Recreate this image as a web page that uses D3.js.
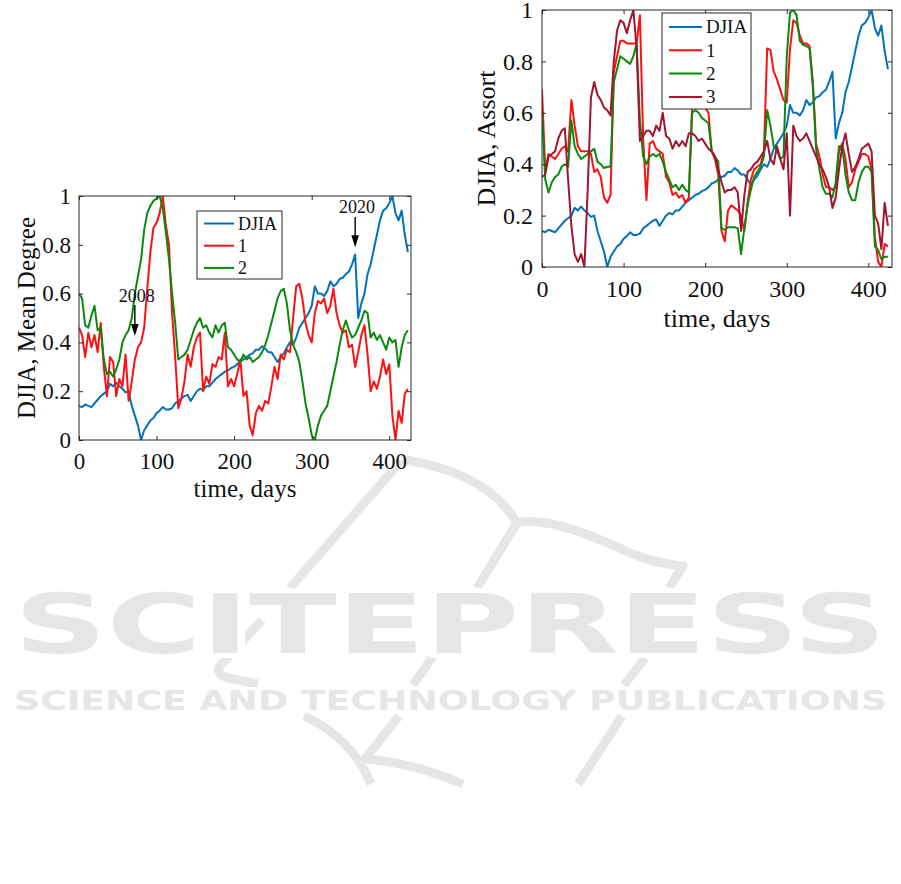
<!DOCTYPE html>
<html><head><meta charset="utf-8">
<script src="https://cdn.jsdelivr.net/npm/d3@7"></script>
<style>html,body{margin:0;padding:0;background:#fff}svg{display:block}</style>
</head><body>
<svg id="c" width="901" height="884"></svg>
<script>
// ---------------- DATA ----------------
const days = d3.range(0, 425, 4); // sampling days 0..424

const djia = [
0.14,0.135,0.145,0.14,0.135,0.15,0.165,0.18,0.19,0.2,
0.23,0.22,0.235,0.22,0.21,0.195,0.2,0.14,0.1,0.06,
0.0,0.04,0.06,0.08,0.09,0.11,0.12,0.135,0.125,0.125,
0.13,0.15,0.16,0.17,0.18,0.185,0.16,0.18,0.2,0.21,
0.205,0.22,0.22,0.235,0.25,0.26,0.27,0.28,0.285,0.295,
0.3,0.31,0.325,0.33,0.34,0.35,0.355,0.37,0.37,0.385,
0.375,0.36,0.36,0.34,0.32,0.34,0.355,0.38,0.4,0.39,
0.42,0.46,0.48,0.5,0.52,0.55,0.63,0.6,0.6,0.59,
0.61,0.65,0.63,0.64,0.66,0.665,0.68,0.69,0.72,0.76,
0.5,0.56,0.6,0.68,0.72,0.78,0.84,0.9,0.94,0.95,
0.97,1.0,0.93,0.9,0.94,0.84,0.77];

// Mean degree, series 1 and 2
const meanDeg1 = [
0.46,0.43,0.34,0.44,0.38,0.43,0.36,0.48,0.3,0.18,
0.34,0.32,0.18,0.25,0.22,0.35,0.16,0.24,0.33,0.38,
0.4,0.46,0.62,0.77,0.87,0.89,0.93,1.0,0.88,0.8,
0.52,0.34,0.13,0.17,0.24,0.35,0.3,0.38,0.42,0.44,
0.2,0.26,0.23,0.31,0.3,0.34,0.33,0.44,0.22,0.25,
0.22,0.27,0.33,0.18,0.2,0.06,0.02,0.11,0.14,0.12,
0.16,0.15,0.22,0.3,0.25,0.35,0.33,0.37,0.36,0.5,
0.63,0.64,0.58,0.48,0.43,0.4,0.52,0.57,0.56,0.58,
0.52,0.55,0.62,0.52,0.47,0.44,0.45,0.38,0.39,0.3,
0.36,0.43,0.47,0.35,0.2,0.24,0.21,0.26,0.33,0.27,
0.31,0.1,0.0,0.12,0.07,0.19,0.21];

const meanDeg2 = [
0.6,0.58,0.47,0.46,0.51,0.55,0.45,0.46,0.33,0.27,
0.28,0.26,0.29,0.33,0.4,0.43,0.45,0.5,0.6,0.67,
0.74,0.86,0.93,0.96,0.98,0.99,1.0,0.95,0.85,0.74,
0.6,0.48,0.33,0.34,0.35,0.37,0.41,0.45,0.48,0.5,
0.46,0.47,0.44,0.42,0.47,0.44,0.47,0.48,0.38,0.37,
0.35,0.33,0.32,0.35,0.33,0.34,0.32,0.33,0.34,0.36,
0.39,0.43,0.48,0.53,0.58,0.61,0.62,0.56,0.45,0.39,
0.36,0.32,0.24,0.15,0.09,0.02,0.0,0.06,0.1,0.12,
0.14,0.2,0.26,0.32,0.39,0.45,0.49,0.45,0.42,0.43,
0.46,0.49,0.53,0.52,0.42,0.44,0.41,0.43,0.4,0.37,
0.42,0.4,0.41,0.3,0.38,0.43,0.45];

// Assortativity, series 1, 2 and 3
const assort1 = [
0.69,0.38,0.44,0.43,0.42,0.44,0.46,0.47,0.45,0.65,
0.55,0.47,0.45,0.45,0.45,0.44,0.37,0.38,0.35,0.27,
0.25,0.28,0.76,0.82,0.88,0.88,0.87,0.87,0.87,0.87,
0.98,0.5,0.26,0.48,0.49,0.46,0.45,0.44,0.35,0.33,
0.28,0.29,0.27,0.28,0.25,0.27,0.63,0.66,0.65,0.64,
0.62,0.6,0.45,0.42,0.36,0.14,0.1,0.22,0.24,0.23,
0.22,0.2,0.14,0.25,0.34,0.38,0.39,0.4,0.45,0.85,
0.845,0.76,0.73,0.69,0.65,0.64,0.85,0.96,0.95,0.9,
0.87,0.87,0.86,0.72,0.48,0.43,0.36,0.31,0.31,0.3,
0.31,0.45,0.48,0.42,0.31,0.33,0.38,0.41,0.44,0.44,
0.43,0.38,0.12,0.02,0.0,0.09,0.08];

const assort2 = [
0.6,0.34,0.29,0.33,0.35,0.36,0.39,0.4,0.39,0.57,
0.47,0.44,0.42,0.43,0.44,0.45,0.46,0.41,0.4,0.385,
0.39,0.39,0.72,0.77,0.82,0.81,0.8,0.79,0.82,0.87,
0.57,0.43,0.4,0.43,0.44,0.43,0.44,0.41,0.37,0.34,
0.31,0.32,0.3,0.32,0.3,0.29,0.6,0.61,0.6,0.58,
0.57,0.56,0.45,0.43,0.41,0.15,0.145,0.155,0.155,0.155,
0.15,0.05,0.15,0.24,0.3,0.35,0.37,0.39,0.43,0.61,
0.55,0.47,0.455,0.42,0.43,0.82,0.99,1.0,0.98,0.88,
0.865,0.86,0.85,0.7,0.46,0.38,0.31,0.285,0.285,0.27,
0.33,0.47,0.47,0.36,0.29,0.26,0.26,0.33,0.37,0.39,
0.39,0.37,0.08,0.066,0.03,0.04,0.04];

const assort3 = [
0.35,0.36,0.43,0.44,0.45,0.5,0.53,0.54,0.34,0.16,
0.05,0.02,0.05,0.0,0.3,0.66,0.72,0.67,0.65,0.62,
0.61,0.59,0.8,0.92,0.96,0.95,0.91,0.96,1.0,0.85,
0.49,0.51,0.53,0.53,0.51,0.55,0.53,0.6,0.51,0.5,
0.46,0.49,0.47,0.49,0.47,0.52,0.52,0.51,0.49,0.5,
0.48,0.46,0.45,0.43,0.38,0.33,0.29,0.3,0.3,0.31,
0.29,0.14,0.28,0.37,0.38,0.4,0.41,0.43,0.45,0.49,
0.42,0.4,0.47,0.42,0.38,0.52,0.2,0.55,0.51,0.49,
0.5,0.52,0.49,0.46,0.43,0.4,0.38,0.35,0.31,0.23,
0.27,0.38,0.47,0.52,0.44,0.37,0.39,0.42,0.46,0.47,
0.48,0.45,0.2,0.17,0.07,0.25,0.16];

const xTicks = [0, 100, 200, 300, 400];
const yTicks = [0, 0.2, 0.4, 0.6, 0.8, 1];
const yTickLabels = ["0", "0.2", "0.4", "0.6", "0.8", "1"];
const legendLeft = ["DJIA", "1", "2"];
const legendRight = ["DJIA", "1", "2", "3"];
const annotations = [
  {label: "2008", day: 72, from: 0.553, to: 0.426, textDay: 74.5, textVal: 0.566},
  {label: "2020", day: 356, from: 0.914, to: 0.79, textDay: 358.5, textVal: 0.93}
];

// ---------------- DRAW ----------------
const svg = d3.select("#c");
const SERIF = "'Liberation Serif','Times New Roman',Times,serif";
const C = {blue: "#0072BD", red: "#FF1010", green: "#0A8A0A", maroon: "#A2142F"};

// watermark (background decoration)
const WM = "#e6e6e6";
const wm = svg.append("g").attr("fill", "none").attr("stroke", WM)
  .attr("stroke-width", 9).attr("stroke-linejoin", "round");
[
  "M401,461 L290,588",
  "M401,459 C442,466 492,480 517,523",
  "M517,523 C545,516 590,534 630,553 C655,563 670,565 683,566 L669,588",
  "M517,523 L477,588",
  "M262,620 L219,667 Q216,674 228,678 L258,684",
  "M446,638 L413,685",
  "M645,658 L624,685",
  "M304,716 Q352,738 371,784",
  "M399,716 L365,759 Q410,762 463,784",
  "M622,716 L578,784"
].forEach(d => wm.append("path").attr("d", d));
svg.append("text").attr("x", 14).attr("y", 653)
  .attr("textLength", 872).attr("lengthAdjust", "spacingAndGlyphs")
  .attr("font-family", "'DejaVu Sans'").attr("font-weight", "bold")
  .attr("font-size", 82).attr("fill", WM).attr("stroke", "#fff")
  .attr("stroke-width", 10).attr("paint-order", "stroke").text("SCITEPRESS");
svg.append("text").attr("x", 14).attr("y", 710)
  .attr("textLength", 873).attr("lengthAdjust", "spacingAndGlyphs")
  .attr("font-family", "'DejaVu Sans'").attr("font-weight", "bold")
  .attr("font-size", 27).attr("fill", WM).attr("stroke", "#fff")
  .attr("stroke-width", 6).attr("paint-order", "stroke")
  .text("SCIENCE AND TECHNOLOGY PUBLICATIONS");

function drawChart(o) {
  const x = d3.scaleLinear().domain([0, o.xMax]).range([o.left, o.right]);
  const y = d3.scaleLinear().domain([0, 1]).range([o.bottom, o.top]);
  const g = svg.append("g");
  const clipId = "clip" + o.id;
  svg.append("clipPath").attr("id", clipId).append("rect")
    .attr("x", o.left).attr("y", o.top)
    .attr("width", o.right - o.left).attr("height", o.bottom - o.top);

  g.append("rect").attr("x", o.left).attr("y", o.top)
    .attr("width", o.right - o.left).attr("height", o.bottom - o.top)
    .attr("fill", "#fff");

  const line = d3.line().x((d, i) => x(days[i])).y(d => y(d));
  const lines = g.append("g").attr("clip-path", `url(#${clipId})`);
  o.series.forEach(s => lines.append("path").datum(s.values).attr("d", line)
    .attr("fill", "none").attr("stroke", s.color).attr("stroke-width", 2)
    .attr("stroke-linejoin", "round"));

  const AX = "#262626";
  const style = sel => {
    sel.select(".domain").remove();
    sel.selectAll(".tick line").attr("stroke", AX).attr("stroke-width", 1);
    sel.selectAll(".tick text").attr("font-family", SERIF)
      .attr("font-size", o.tickFont).attr("fill", "#111");
    sel.attr("font-family", null).attr("font-size", null);
  };
  g.append("g").attr("transform", `translate(0,${o.bottom})`)
    .call(d3.axisBottom(x).tickValues(xTicks).tickSizeInner(-4).tickSizeOuter(0)
      .tickPadding(o.xPad).tickFormat(d3.format("d"))).call(style);
  g.append("g").attr("transform", `translate(0,${o.top})`)
    .call(d3.axisTop(x).tickValues(xTicks).tickSizeInner(-4).tickSizeOuter(0)
      .tickFormat("")).call(style);
  g.append("g").attr("transform", `translate(${o.left},0)`)
    .call(d3.axisLeft(y).tickValues(yTicks).tickSizeInner(-4).tickSizeOuter(0)
      .tickPadding(o.yPad).tickFormat((d, i) => yTickLabels[i])).call(style);
  g.append("g").attr("transform", `translate(${o.right},0)`)
    .call(d3.axisRight(y).tickValues(yTicks).tickSizeInner(-4).tickSizeOuter(0)
      .tickFormat("")).call(style);

  g.append("rect").attr("x", o.left).attr("y", o.top)
    .attr("width", o.right - o.left).attr("height", o.bottom - o.top)
    .attr("fill", "none").attr("stroke", AX).attr("stroke-width", 1);

  // axis labels
  g.append("text").attr("x", (o.left + o.right) / 2).attr("y", o.xLabelY)
    .attr("text-anchor", "middle").attr("font-family", SERIF)
    .attr("font-size", o.labelFont).attr("fill", "#111").text("time, days");
  g.append("text")
    .attr("transform", `translate(${o.yLabelX},${(o.top + o.bottom) / 2}) rotate(-90)`)
    .attr("text-anchor", "middle").attr("font-family", SERIF)
    .attr("font-size", o.labelFont).attr("fill", "#111").text(o.yLabel);

  // annotations
  (o.annotations || []).forEach(a => {
    const ax = x(a.day), y0 = y(a.from), y1 = y(a.to);
    g.append("line").attr("x1", ax).attr("x2", ax).attr("y1", y0).attr("y2", y1 - 8)
      .attr("stroke", "#000").attr("stroke-width", 1.4);
    g.append("path").attr("d", `M${ax - 3.8},${y1 - 12} L${ax + 3.8},${y1 - 12} L${ax},${y1} Z`)
      .attr("fill", "#000");
    g.append("text").attr("x", x(a.textDay)).attr("y", y(a.textVal))
      .attr("text-anchor", "middle").attr("font-family", SERIF)
      .attr("font-size", 18).attr("fill", "#111").text(a.label);
  });

  // legend
  const L = o.legend;
  const lg = g.append("g");
  lg.append("rect").attr("x", L.x0).attr("y", L.y0)
    .attr("width", L.x1 - L.x0).attr("height", L.y1 - L.y0)
    .attr("fill", "#fff").attr("stroke", AX).attr("stroke-width", 1);
  o.series.forEach((s, i) => {
    const yy = L.firstY + i * L.step;
    lg.append("line").attr("x1", L.lx0).attr("x2", L.lx1).attr("y1", yy).attr("y2", yy)
      .attr("stroke", s.color).attr("stroke-width", 2);
    lg.append("text").attr("x", L.tx).attr("y", yy).attr("dy", "0.34em")
      .attr("font-family", SERIF).attr("font-size", L.font).attr("fill", "#111")
      .text(s.name);
  });
}

drawChart({
  id: "L", left: 79, right: 411, top: 196, bottom: 440, xMax: 428,
  tickFont: 23, labelFont: 25, xPad: 12.5, yPad: 8,
  xLabelY: 497, yLabelX: 35, yLabel: "DJIA, Mean Degree",
  series: [
    {name: legendLeft[0], values: djia, color: C.blue},
    {name: legendLeft[1], values: meanDeg1, color: C.red},
    {name: legendLeft[2], values: meanDeg2, color: C.green}
  ],
  annotations: annotations,
  legend: {x0: 197, x1: 282, y0: 211, y1: 279, firstY: 223.5, step: 22.2,
           lx0: 204, lx1: 234, tx: 238, font: 18}
});

drawChart({
  id: "R", left: 542, right: 892, top: 10, bottom: 267, xMax: 429,
  tickFont: 24, labelFont: 26, xPad: 13, yPad: 9,
  xLabelY: 327, yLabelX: 495, yLabel: "DJIA, Assort",
  series: [
    {name: legendRight[0], values: djia, color: C.blue},
    {name: legendRight[1], values: assort1, color: C.red},
    {name: legendRight[2], values: assort2, color: C.green},
    {name: legendRight[3], values: assort3, color: C.maroon}
  ],
  legend: {x0: 662, x1: 751, y0: 13, y1: 109, firstY: 27, step: 23.3,
           lx0: 669, lx1: 702, tx: 706, font: 19}
});
</script>
</body></html>
